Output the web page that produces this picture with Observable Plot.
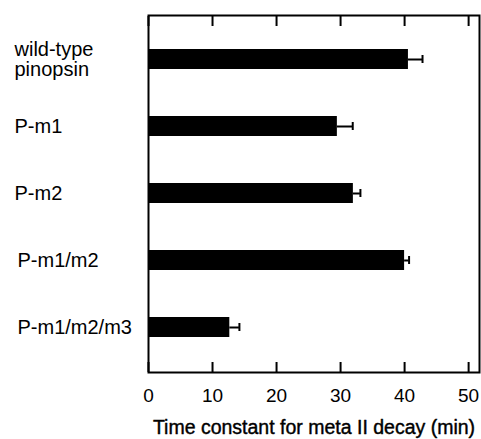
<!DOCTYPE html>
<html>
<head>
<meta charset="utf-8">
<script src="https://cdn.jsdelivr.net/npm/d3@7"></script>
<script src="https://cdn.jsdelivr.net/npm/@observablehq/plot@0.6"></script>
<style>
  html, body { margin: 0; padding: 0; background: white; }
</style>
</head>
<body>
<div id="chart"></div>
<script>
const categories = ["wild-type\npinopsin", "P-m1", "P-m2", "P-m1/m2", "P-m1/m2/m3"];
const values = [40.6, 29.5, 32.0, 40.0, 12.7];
const errors = [2.2, 2.4, 1.1, 0.7, 1.5];
const xTicks = [0, 10, 20, 30, 40, 50];
const xTitle = "Time constant for meta II decay (min)";

const data = categories.map((name, i) => ({name, value: values[i], err: errors[i]}));

const chart = Plot.plot({
  width: 481,
  height: 439,
  marginLeft: 148,
  marginRight: 2,
  marginTop: 15,
  marginBottom: 67,
  x: {domain: [0, 51.7]},
  y: {domain: categories, paddingInner: 0.696, paddingOuter: 0.49},
  style: {fontFamily: "'Liberation Sans', Arial, sans-serif", fontSize: "19px", color: "black", background: "white"},
  marks: [
    Plot.barX(data, {x: "value", y: "name", fill: "black"}),
    Plot.ruleY(data, {x1: "value", x2: d => d.value + d.err, y: "name", strokeWidth: 2}),
    Plot.tickX(data, {x: d => d.value + d.err, y: "name", strokeWidth: 2, insetTop: 6, insetBottom: 6}),
    Plot.frame({strokeWidth: 2}),
    Plot.axisX({anchor: "bottom", ticks: xTicks, tickSize: 10, dy: -10, stroke: "black", strokeWidth: 2, tickFormat: () => "", label: null}),
    Plot.axisX({anchor: "top", ticks: xTicks, tickSize: 10, dy: 10, stroke: "black", strokeWidth: 2, tickFormat: () => "", label: null}),
    Plot.axisX({anchor: "bottom", ticks: xTicks, tickSize: 0, tickPadding: 16, label: null, fill: "black", stroke: "black", strokeWidth: 0.4}),
    Plot.text([xTitle], {text: d => d, frameAnchor: "bottom", dy: 61, lineAnchor: "bottom", fontSize: 19.5, fill: "black", stroke: "black", strokeWidth: 0.4}),
    Plot.axisY({anchor: "left", ticks: categories.slice(0, 3), tickSize: 0, tickPadding: 0, textAnchor: "start", dx: -134, lineHeight: 1.02, fontSize: 20, label: null, fill: "black", stroke: "black", strokeWidth: 0.4}),
    Plot.axisY({anchor: "left", ticks: categories.slice(3), tickSize: 0, tickPadding: 0, textAnchor: "start", dx: -131, fontSize: 20, label: null, fill: "black", stroke: "black", strokeWidth: 0.4})
  ]
});

document.getElementById("chart").appendChild(chart);
</script>
</body>
</html>
